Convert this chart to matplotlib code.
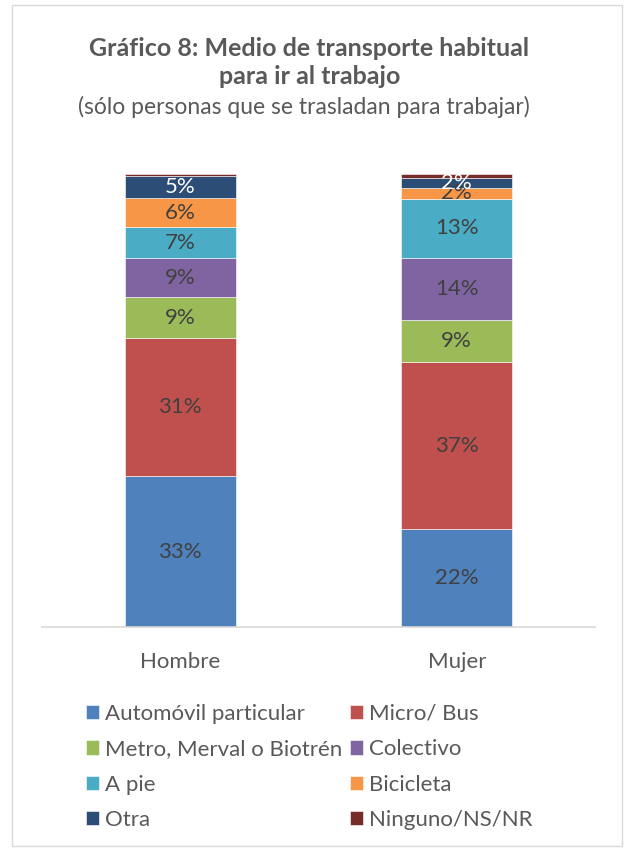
import matplotlib
matplotlib.use("Agg")
import matplotlib.pyplot as plt
from matplotlib.patches import Rectangle
import numpy as np

plt.rcParams['font.family'] = ['Lato', 'DejaVu Sans']

categories = ["Hombre", "Mujer"]
series_names = ["Automóvil particular", "Micro/ Bus", "Metro, Merval o Biotrén",
                "Colectivo", "A pie", "Bicicleta", "Otra", "Ninguno/NS/NR"]
values_hombre = [33.3, 30.5, 9.0, 8.6, 6.8, 6.4, 4.9, 0.5]
values_mujer = [21.6, 36.9, 9.3, 13.7, 13.0, 2.4, 2.2, 0.9]
labels_hombre = ["33%", "31%", "9%", "9%", "7%", "6%", "5%", ""]
labels_mujer = ["22%", "37%", "9%", "14%", "13%", "2%", "2%", ""]
colors = ["#4F81BD", "#C0504D", "#9BBB59", "#8064A2", "#4BACC6", "#F79646", "#2C4D75", "#772C2A"]
label_colors = ["#404040"] * 6 + ["white", "white"]

fig = plt.figure(figsize=(6.31, 8.5), dpi=100)
fig.patches.append(Rectangle((12/631, 1-846/850), (622-12)/631, (846-5)/850,
                             transform=fig.transFigure, fill=False,
                             edgecolor="#D9D9D9", linewidth=1.0))

ax = fig.add_axes([42/631, 1-627/850, (595-42)/631, (627-174)/850])
x = np.arange(len(categories))
data = np.array([values_hombre, values_mujer])
labels = [labels_hombre, labels_mujer]
bottom = np.zeros(len(categories))
width = 0.4
for i, name in enumerate(series_names):
    vals = data[:, i]
    ax.bar(x, vals, width, bottom=bottom, color=colors[i], label=name,
           edgecolor="white", linewidth=0.4)
    for j in range(len(categories)):
        lab = labels[j][i]
        if lab:
            ax.text(x[j], bottom[j] + vals[j] / 2, lab, ha="center", va="center",
                    fontsize=16, color=label_colors[i])
    bottom += vals

ax.set_xlim(-0.5, 1.5)
ax.set_ylim(0, 100)
for s in ["top", "right", "left"]:
    ax.spines[s].set_visible(False)
ax.spines["bottom"].set_color("#D9D9D9")
ax.spines["bottom"].set_linewidth(1.2)
ax.set_yticks([])
ax.set_xticks(x)
ax.set_xticklabels(categories, fontsize=16, color="#595959")
ax.tick_params(axis="x", length=0, pad=18)

fig.text(0.490, 1-48/850, "Gráfico 8: Medio de transporte habitual", ha="center", va="center",
         fontsize=18, fontweight="bold", color="#595959")
fig.text(0.490, 1-77/850, "para ir al trabajo", ha="center", va="center",
         fontsize=18, fontweight="bold", color="#595959")
fig.text(0.482, 1-107/850, "(sólo personas que se trasladan para trabajar)", ha="center", va="center",
         fontsize=16.5, color="#595959")

handles, lbls = ax.get_legend_handles_labels()
order = [0, 2, 4, 6, 1, 3, 5, 7]
leg = fig.legend([handles[k] for k in order], [lbls[k] for k in order], ncol=2,
                 loc="upper left", bbox_to_anchor=(86/631, 1-704/850),
                 frameon=False, fontsize=16, handlelength=0.6, handleheight=0.6,
                 handletextpad=0.25, columnspacing=0.35, labelspacing=0.69,
                 borderaxespad=0, borderpad=0)
for t in leg.get_texts():
    t.set_color("#595959")

fig.savefig("out.png", dpi=100)
